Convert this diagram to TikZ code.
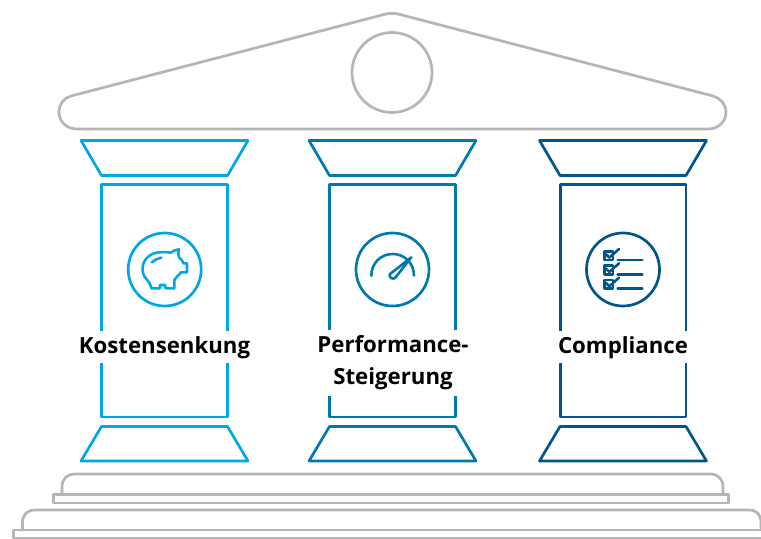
\documentclass[tikz,border=0pt]{standalone}
\usepackage{fontspec}
\setmainfont{Open Sans}
\definecolor{cone}{HTML}{00A7E7}
\definecolor{ctwo}{HTML}{0079AE}
\definecolor{cthree}{HTML}{00568A}
\definecolor{stone}{HTML}{B5B5B5}
\tikzset{
  outline/.style={line width=2.7pt,line join=round,line cap=round},
  thinicon/.style={line width=2.6pt,line join=round,line cap=round},
  pillartext/.style={fill=white,inner xsep=1.5bp,inner ysep=0pt,align=center,
    font=\fontsize{22.3}{32.1}\selectfont\bfseries,text=black}
}
\newcommand{\pillar}[2]{%
  \begin{scope}[shift={(#1,0)}]
    \draw[outline,#2] (81,140.5) -- (248,140.5) -- (227.5,175.5) -- (101.5,175.5) -- cycle;
    \draw[outline,#2] (101.8,184.5) rectangle (227.5,417);
    \draw[outline,#2] (101.5,426.5) -- (227.5,426.5) -- (248,461) -- (81,461) -- cycle;
  \end{scope}}
\begin{document}
\begin{tikzpicture}[x=1bp,y=-1bp]
\useasboundingbox[fill=white] (0,0) rectangle (761,539);
\clip (0,0) rectangle (761,539);
% roof
\draw[outline,stone] (77,129) .. controls (66,129) and (59,121) .. (59,112)
  .. controls (59,104) and (64,98) .. (71,96) -- (384,14.5)
  .. controls (389,13) and (395,13) .. (400,14.5) -- (713,96)
  .. controls (720,98) and (726,104) .. (726,112)
  .. controls (726,121) and (719,129) .. (708,129) -- cycle;
\draw[outline,stone] (392,72.5) circle (40);
% pillars
\pillar{0}{cone}
\pillar{228}{ctwo}
\pillar{458.5}{cthree}
% steps
\draw[outline,stone] (62,494) -- (62,487) .. controls (62,479) and (67,474) .. (75,474)
  -- (710,474) .. controls (718,474) and (723,479) .. (723,487) -- (723,494);
\draw[outline,stone] (53.5,494.5) rectangle (728.5,503);
\draw[outline,stone] (22.5,530) -- (22.5,523) .. controls (22.5,515) and (27,510) .. (35,510)
  -- (749,510) .. controls (757,510) and (761,515) .. (761,523) -- (761,530);
\draw[outline,stone] (13.5,530) rectangle (770,538);
% labels
\node[pillartext,minimum height=32bp] (kosten) at (164.5,347.3) {Kostensenkung};
\node[pillartext,minimum height=66bp] (perf) at (393,363) {Performance-\\Steigerung};
\node[pillartext,minimum height=32bp] (comp) at (623,347.3) {Compliance};
% icon circles
\node[circle,draw=cone,line width=2.7pt,minimum size=73bp,inner sep=0pt] (iconone) at (164.7,269.5) {};
\node[circle,draw=ctwo,line width=2.7pt,minimum size=73bp,inner sep=0pt] (icontwo) at (392.5,269.5) {};
\node[circle,draw=cthree,line width=2.7pt,minimum size=73bp,inner sep=0pt] (iconthree) at (623,269.5) {};
% piggy
\begin{scope}[shift={(110,220)},x=0.3333bp,y=-0.3333bp]
\draw[thinicon,cone] (182,98) .. controls (190,92) and (198,89) .. (207,88)
  .. controls (204,96) and (204,104) .. (207,112) .. controls (213,117) and (218,123) .. (221,130) -- (231,130) -- (231,157) -- (213,157)
  .. controls (205,168) and (197,172) .. (193,180) -- (193,205) -- (167,205) -- (165,195) -- (150,195) -- (150,205) -- (125,205)
  .. controls (122,195) and (118,187) .. (110,178)
  .. controls (100,168) and (97,155) .. (98,142)
  .. controls (100,115) and (125,97) .. (150,97)
  .. controls (162,96) and (172,96) .. (182,98) -- cycle;
\draw[thinicon,cone] (125,127) .. controls (133,120) and (143,115) .. (154,113);
\end{scope}
% gauge
\begin{scope}[shift={(340,220)},x=0.3333bp,y=-0.3333bp]
\draw[thinicon,ctwo] (94,167) .. controls (94,130) and (122,102) .. (158,102) .. controls (194,102) and (222,130) .. (222,167);
\draw[thinicon,ctwo] (214,112) -- (166,173) .. controls (158,180) and (147,173) .. (149,163) -- (214,112) -- cycle;
\end{scope}
% checklist
\begin{scope}[shift={(570,220)},x=0.3333bp,y=-0.3333bp]
\foreach \oy in {0,43,86}{
  \draw[thinicon,cthree] (103,94+\oy) rectangle (129,120+\oy);
  \draw[thinicon,cthree] (108,103+\oy) -- (118,113+\oy) -- (147,87+\oy);
  \draw[thinicon,cthree] (143,120+\oy) -- (217,120+\oy);
}
\end{scope}
\end{tikzpicture}
\end{document}
